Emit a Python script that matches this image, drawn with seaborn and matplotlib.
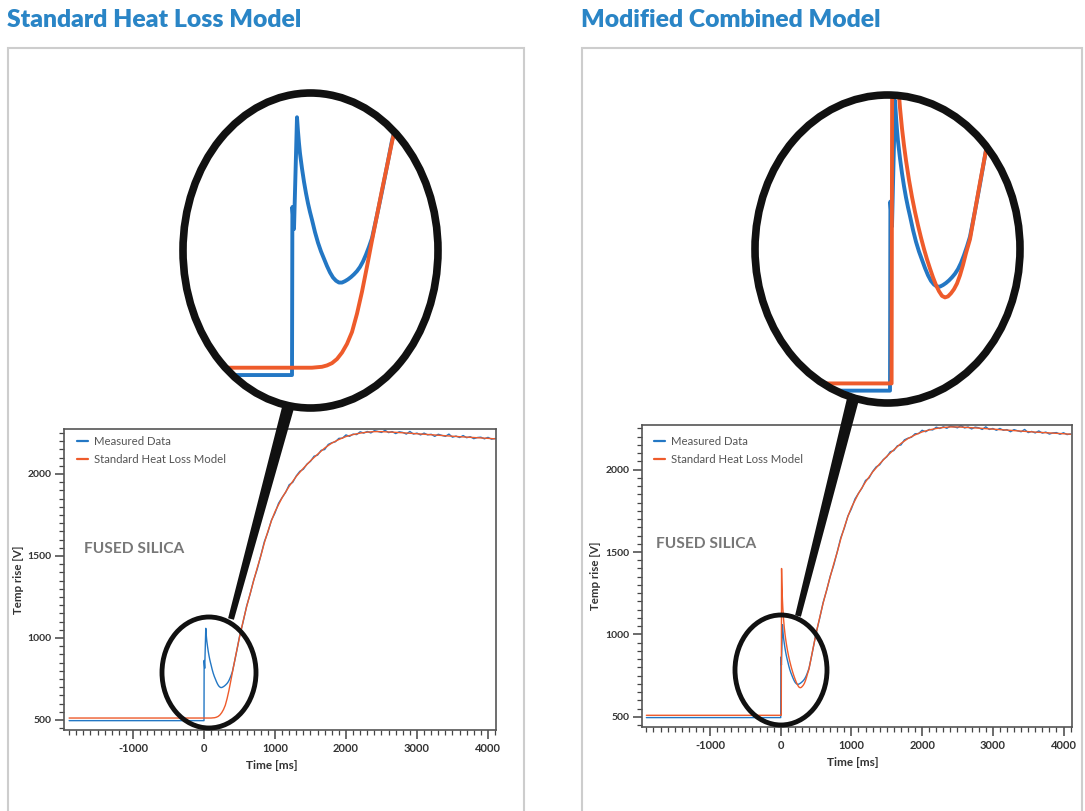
import matplotlib
matplotlib.use("Agg")
import matplotlib.pyplot as plt
from matplotlib.patches import Ellipse, Rectangle, Polygon
from matplotlib.ticker import MultipleLocator
import numpy as np
import seaborn as sns

# ---------------- data ----------------
# measured data (blue) - baseline, flash spike and early response
meas_early_t = [-1900, 0, 2, 10, 25, 30, 35, 40, 50, 60, 70, 80, 90, 100, 115, 130, 145, 160,
                175, 190, 205, 220, 235, 250, 265, 280, 295, 310, 325, 340, 355, 370, 385, 400,
                425, 450, 475]
meas_early_v = [496, 496, 863, 815, 1059, 1028, 1002, 980, 947, 918, 893, 871, 852, 835, 808, 785,
                766, 750, 734, 720, 709, 702, 698, 698, 701, 705, 710, 716, 723, 732, 744, 759,
                776, 795, 845, 897, 952]
# measured data (blue) - rise and plateau, sampled every 50 ms from 500 ms
meas_late_t = list(range(500, 4101, 50))
meas_late_v = [1008, 1096, 1194, 1268, 1353, 1420, 1502, 1587, 1645, 1718, 1762, 1821, 1856, 1888,
               1934, 1949, 1988, 2016, 2029, 2060, 2077, 2108, 2115, 2144, 2149, 2180, 2190, 2196,
               2217, 2218, 2238, 2229, 2243, 2240, 2257, 2249, 2259, 2250, 2264, 2259, 2253, 2266,
               2252, 2258, 2246, 2257, 2253, 2243, 2259, 2243, 2249, 2238, 2249, 2238, 2242, 2229,
               2242, 2235, 2229, 2243, 2224, 2231, 2222, 2234, 2221, 2227, 2215, 2222, 2224, 2214,
               2223, 2212, 2216]
meas_t = meas_early_t + meas_late_t
meas_v = meas_early_v + meas_late_v

# standard heat loss model (orange, left panel)
std_t = [-1900, 0, 100, 150, 175, 200, 225, 250, 275, 300, 325, 350, 375, 400, 425, 450, 475,
         500, 550, 600, 650, 700, 750, 800, 850, 900, 950, 1000, 1100, 1200, 1300, 1400, 1500,
         1600, 1700, 1800, 1900, 2000, 2100, 2200, 2300, 2400, 2500, 2600, 2800, 3000, 3200,
         3400, 3600, 3800, 4000, 4100]
std_v = [512, 512, 512, 514, 517, 522, 531, 545, 564, 590, 630, 678, 733, 790, 845, 900, 952,
         1005, 1100, 1190, 1270, 1350, 1428, 1500, 1580, 1650, 1715, 1770, 1855, 1925, 1985, 2035,
         2080, 2120, 2158, 2188, 2210, 2228, 2240, 2249, 2255, 2258, 2258, 2256, 2251, 2245,
         2239, 2233, 2227, 2222, 2217, 2214]

# modified combined model (orange, right panel) - early part, then same as standard model
comb_early_t = [-1900, 0, 8, 12, 16, 20, 25, 30, 40, 50, 60, 70, 80, 95, 110, 125, 140, 155, 170,
                185, 200, 215, 230, 245, 260, 275, 290, 305, 320, 335, 350, 365, 380, 400, 425,
                450, 475]
comb_early_v = [510, 510, 510, 1400, 1320, 1260, 1205, 1160, 1095, 1045, 1005, 972, 943, 905, 872,
                843, 817, 793, 771, 751, 733, 716, 701, 689, 680, 677, 679, 685, 693, 704, 720,
                740, 763, 790, 845, 900, 952]
comb_t = comb_early_t + [t for t in std_t if t >= 500]
comb_v = comb_early_v + [v for t, v in zip(std_t, std_v) if t >= 500]

x_ticks = [-1000, 0, 1000, 2000, 3000, 4000]
y_ticks = [500, 1000, 1500, 2000]
titles = ["Standard Heat Loss Model", "Modified Combined Model"]
legend_labels = ["Measured Data", "Standard Heat Loss Model"]
sample_label = "FUSED SILICA"

# ---------------- style ----------------
BLUE = "#2377c4"
ORANGE = "#ee5b2b"
TITLE_BLUE = "#2a85c6"
W, H = 1085, 811

sns.set_style("white")
plt.rcParams["font.family"] = ["Lato", "DejaVu Sans"]
plt.rcParams["axes.unicode_minus"] = False

fig = plt.figure(figsize=(W / 100, H / 100), dpi=100)
fig.patch.set_facecolor("white")


def fx(px):
    return px / W


def fy(py):
    return 1 - py / H


def add_ax(x0, y0, x1, y1):
    return fig.add_axes([fx(x0), fy(y1), (x1 - x0) / W, (y1 - y0) / H])


def draw_main(ax, model_t, model_v, xlim, ylim, xlab_x, ylab_x):
    sns.lineplot(x=meas_t, y=meas_v, ax=ax, color=BLUE, lw=1.0, sort=False,
                 estimator=None, label=legend_labels[0])
    sns.lineplot(x=model_t, y=model_v, ax=ax, color=ORANGE, lw=1.0, sort=False,
                 estimator=None, label=legend_labels[1])
    ax.set_xlim(*xlim)
    ax.set_ylim(*ylim)
    ax.set_xticks(x_ticks)
    ax.set_xticklabels([str(t) for t in x_ticks], fontweight="bold")
    ax.set_yticks(y_ticks)
    ax.set_yticklabels([str(t) for t in y_ticks], fontweight="bold")
    ax.xaxis.set_minor_locator(MultipleLocator(100))
    ax.yaxis.set_minor_locator(MultipleLocator(50))
    ax.tick_params(which="both", direction="out", colors="#444", labelcolor="#333",
                   bottom=True, left=True, top=False, right=False)
    ax.tick_params(axis="x", labelsize=8)
    ax.tick_params(axis="y", labelsize=7.5)
    ax.tick_params(which="major", length=6.5, width=1.1)
    ax.tick_params(which="minor", length=3.5, width=0.9)
    ax.tick_params(axis="x", which="major", pad=3)
    ax.tick_params(axis="y", which="major", pad=2.5)
    for s in ax.spines.values():
        s.set_color("#555")
        s.set_linewidth(1.2)
    ax.set_xlabel("Time [ms]", fontsize=8.5, fontweight="bold", color="#333")
    ax.set_ylabel("Temp rise [V]", fontsize=8.3, fontweight="bold", color="#333")
    ax.xaxis.set_label_coords(xlab_x, -0.1)
    ax.yaxis.set_label_coords(ylab_x, 0.5)
    ax.set_facecolor("white")


def draw_inset(box, model_t, model_v, xlim, ylim):
    ax = add_ax(*box)
    sns.lineplot(x=meas_t, y=meas_v, ax=ax, color=BLUE, lw=2.8, sort=False,
                 estimator=None, legend=False)
    sns.lineplot(x=model_t, y=model_v, ax=ax, color=ORANGE, lw=2.8, sort=False,
                 estimator=None, legend=False)
    ax.set_xlim(*xlim)
    ax.set_ylim(*ylim)
    ax.set_axis_off()
    clip = Ellipse((0.5, 0.5), 1, 1, transform=ax.transAxes)
    for ln in ax.lines:
        ln.set_clip_path(clip)
        ln.set_solid_joinstyle("round")
    return ax


def ellipse(cx, cy, rx, ry, lw):
    e = Ellipse((fx(cx), fy(cy)), 2 * rx / W, 2 * ry / H, transform=fig.transFigure,
                fill=False, ec="#111", lw=lw, zorder=10)
    fig.add_artist(e)


def handle(p0, p1, w0, w1):
    x0, y0 = p0
    x1, y1 = p1
    d = np.array([x1 - x0, y1 - y0], float)
    n = np.array([-d[1], d[0]]) / np.hypot(*d)
    pts = [np.array(p0) + n * w0 / 2, np.array(p1) + n * w1 / 2,
           np.array(p1) - n * w1 / 2, np.array(p0) - n * w0 / 2]
    pts = [(fx(p[0]), fy(p[1])) for p in pts]
    fig.add_artist(Polygon(pts, closed=True, transform=fig.transFigure, fc="#111",
                           ec="none", zorder=10))


# panel frames
for x0, x1 in [(8, 524), (582, 1082)]:
    fig.add_artist(Rectangle((fx(x0), fy(815)), (x1 - x0) / W, (815 - 48) / H,
                             transform=fig.transFigure, fill=False, ec="#cdcdcd",
                             lw=1.5, zorder=-1))

# titles
fig.text(fx(7), fy(20), titles[0], fontsize=17.8, fontweight="heavy", color=TITLE_BLUE,
         ha="left", va="center")
fig.text(fx(581), fy(20), titles[1], fontsize=17.8, fontweight="heavy", color=TITLE_BLUE,
         ha="left", va="center")

# main axes
axL = add_ax(64, 429, 496, 730)
draw_main(axL, std_t, std_v, (-1972, 4113), (439, 2274), 0.48, -0.092)
axR = add_ax(642, 425, 1072, 727)
draw_main(axR, comb_t, comb_v, (-1962, 4120), (439, 2270), 0.49, -0.095)

for ax, (lx, ly) in [(axL, (77, 436)), (axR, (654, 436))]:
    leg = ax.legend(loc="upper left", bbox_to_anchor=(fx(lx), fy(ly)),
                    bbox_transform=fig.transFigure, frameon=False, fontsize=8.2,
                    handlelength=1.0, handletextpad=0.5, labelspacing=0.6,
                    borderpad=0, borderaxespad=0)
    for t in leg.get_texts():
        t.set_color("#555")
    for ln in leg.get_lines():
        ln.set_linewidth(1.6)

fig.text(fx(84), fy(549), sample_label, fontsize=11.2, fontweight="bold", color="#777",
         ha="left", va="center")
fig.text(fx(656), fy(544), sample_label, fontsize=11.2, fontweight="bold", color="#777",
         ha="left", va="center")

# magnified insets
draw_inset((183, 93, 438, 408), std_t, std_v, (-545, 730), (424, 1112))
draw_inset((755, 95, 1020, 403), comb_t, comb_v, (-675, 650), (472, 1070))

# magnifier outlines and handles
ellipse(310.5, 250.5, 127.5, 157.5, 5.5)
ellipse(887.5, 249, 132.5, 154, 5.5)
ellipse(209, 672.5, 47, 55.5, 3.5)
ellipse(781, 670, 46, 55, 3.5)
handle((231, 619), (289, 404), 6, 12)
handle((798, 616), (853, 399), 6, 12)

fig.savefig("out.png", dpi=100, facecolor="white")
